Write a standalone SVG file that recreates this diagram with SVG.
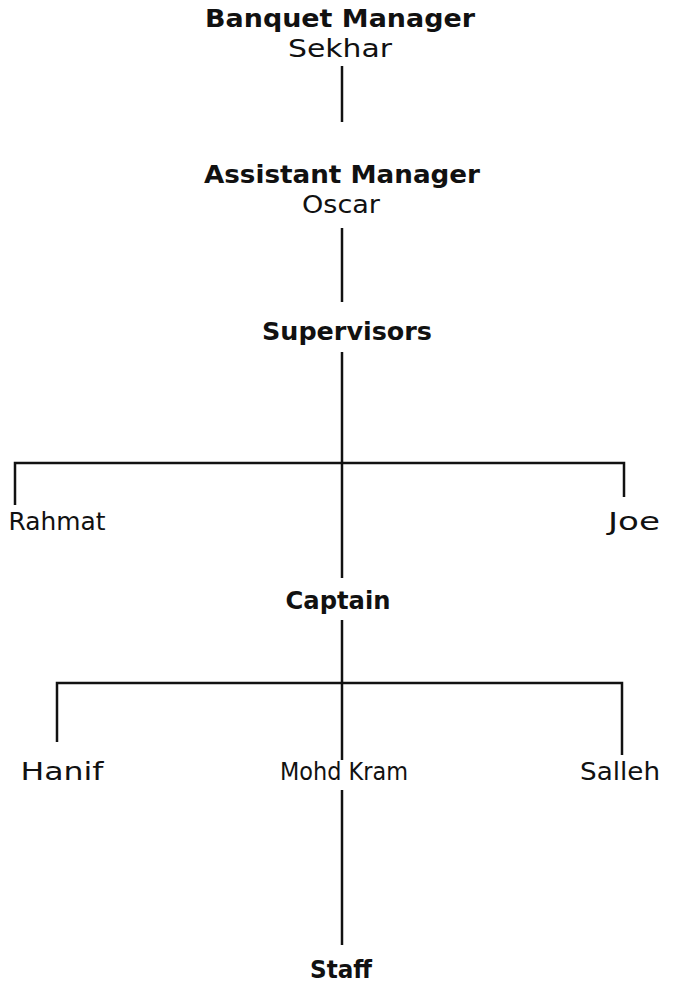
<svg xmlns="http://www.w3.org/2000/svg" width="675" height="996" viewBox="0 0 675 996">
  <style>
    .title { font-family: "DejaVu Sans", "Liberation Sans", sans-serif; font-weight: bold; font-size: 25px; fill: #111; text-anchor: middle; }
    .name { font-family: "DejaVu Sans", "Liberation Sans", sans-serif; font-size: 25px; fill: #111; text-anchor: middle; }
    .link { stroke: #111; stroke-width: 2.5; fill: none; stroke-linecap: butt; }
  </style>
  <rect width="675" height="996" fill="#fff"/>

  <!-- reporting lines -->
  <g id="connectors">
    <line class="link" x1="342" y1="66" x2="342" y2="122"/>
    <line class="link" x1="342" y1="228" x2="342" y2="302"/>
    <line class="link" x1="342" y1="352" x2="342" y2="578"/>
    <polyline class="link" points="15,505 15,463 624,463 624,497"/>
    <line class="link" x1="342" y1="620" x2="342" y2="760"/>
    <polyline class="link" points="57,742 57,683 622,683 622,755"/>
    <line class="link" x1="342" y1="790" x2="342" y2="945"/>
  </g>

  <g id="banquet-manager">
    <text class="title" x="340" y="27" textLength="270" lengthAdjust="spacingAndGlyphs">Banquet Manager</text>
    <text class="name" x="340" y="57" textLength="104" lengthAdjust="spacingAndGlyphs">Sekhar</text>
  </g>
  <g id="assistant-manager">
    <text class="title" x="342" y="183" textLength="276" lengthAdjust="spacingAndGlyphs">Assistant Manager</text>
    <text class="name" x="341" y="213" textLength="78" lengthAdjust="spacingAndGlyphs">Oscar</text>
  </g>
  <g id="supervisors">
    <text class="title" x="347" y="340" textLength="170" lengthAdjust="spacingAndGlyphs">Supervisors</text>
  </g>
  <g id="rahmat">
    <text class="name" x="57" y="530" textLength="97" lengthAdjust="spacingAndGlyphs">Rahmat</text>
  </g>
  <g id="joe">
    <text class="name" x="634" y="530" textLength="52" lengthAdjust="spacingAndGlyphs">Joe</text>
  </g>
  <g id="captain">
    <text class="title" x="338" y="609" textLength="105" lengthAdjust="spacingAndGlyphs">Captain</text>
  </g>
  <g id="hanif">
    <text class="name" x="62" y="780" textLength="83" lengthAdjust="spacingAndGlyphs">Hanif</text>
  </g>
  <g id="mohd-kram">
    <text class="name" x="344" y="780" textLength="128" lengthAdjust="spacingAndGlyphs">Mohd Kram</text>
  </g>
  <g id="salleh">
    <text class="name" x="620" y="780" textLength="80" lengthAdjust="spacingAndGlyphs">Salleh</text>
  </g>
  <g id="staff">
    <text class="title" x="341" y="978" textLength="62" lengthAdjust="spacingAndGlyphs">Staff</text>
  </g>
</svg>
